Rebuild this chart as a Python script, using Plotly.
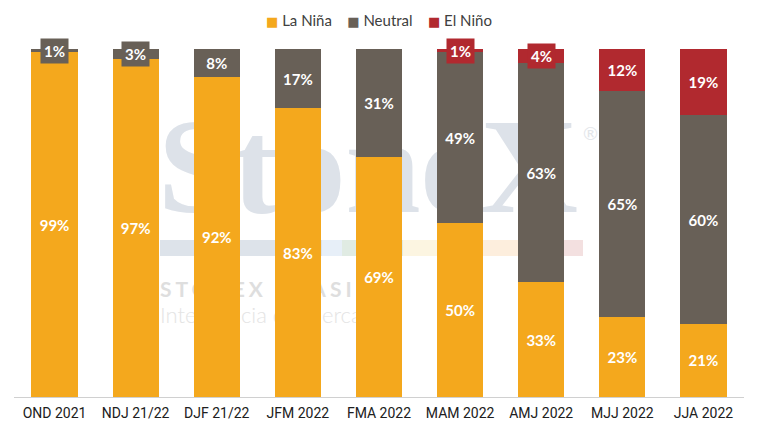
import base64
import plotly.graph_objects as go

# Probabilidades ENSO por trimestre (%)
categories = ["OND 2021", "NDJ 21/22", "DJF 21/22", "JFM 2022", "FMA 2022",
              "MAM 2022", "AMJ 2022", "MJJ 2022", "JJA 2022"]
la_nina = [99, 97, 92, 83, 69, 50, 33, 23, 21]
neutral = [1, 3, 8, 17, 31, 49, 63, 65, 60]
el_nino = [0, 0, 0, 0, 0, 1, 4, 12, 19]

series = [
    ("La Niña", la_nina, "#F4A81D"),
    ("Neutral", neutral, "#686057"),
    ("El Niño", el_nino, "#B1292F"),
]

W, H = 758, 435
ML, MR, MT, MB = 14, 14, 49, 38
PW, PH = W - ML - MR, H - MT - MB

# marca d'água (logo) como svg por trás das barras
stripe = [(160, 322, "#dde3ea"), (322, 342, "#e7eff8"), (342, 403, "#e0ebe3"),
          (403, 483, "#fcf5e1"), (483, 545, "#fdeedd"), (545, 583, "#f3e0e0")]
svg = f'<svg xmlns="http://www.w3.org/2000/svg" width="{W}" height="{H}" viewBox="0 0 {W} {H}">'
svg += ('<text x="158" y="212" font-family="Liberation Serif" font-weight="bold" '
        'font-size="135" fill="#dde2e9">StoneX</text>')
svg += '<text x="583" y="140" font-family="Lato" font-size="18" fill="#e3e6ea">®</text>'
for x0, x1, c in stripe:
    svg += f'<rect x="{x0}" y="240" width="{x1 - x0}" height="16" fill="{c}"/>'
svg += ('<text x="160" y="297" font-family="Lato" font-weight="bold" font-size="21" '
        'letter-spacing="4" fill="#dedede">STONEX BRASIL</text>')
svg += ('<text x="160" y="323" font-family="Lato" font-weight="300" font-size="22" '
        'fill="#e4e4e4">Inteligência de Mercado</text>')
svg += '</svg>'
logo = "data:image/svg+xml;base64," + base64.b64encode(svg.encode("utf-8")).decode()

fig = go.Figure()
for name, vals, color in series:
    fig.add_trace(go.Bar(
        x=categories,
        y=vals,
        name=name,
        marker_color=color,
        marker_line_width=0,
        text=[f"{v}%" if v >= 5 else "" for v in vals],
        textposition="inside",
        insidetextanchor="middle",
        textangle=0,
        textfont=dict(color="white", size=15, family="Lato", weight="bold"),
        hoverinfo="skip",
        showlegend=False,
    ))

# rótulos pequenos com caixa de fundo
annotations = []
base = [0] * len(categories)
for name, vals, color in series:
    for i, v in enumerate(vals):
        if 0 < v < 5:
            annotations.append(dict(
                x=categories[i], y=base[i] + v / 2, text=f"<b>{v}%</b>",
                showarrow=False, bgcolor=color, borderpad=3,
                font=dict(color="white", size=15, family="Lato"),
            ))
    base = [b + v for b, v in zip(base, vals)]

# legenda compacta (quadrado colado ao texto, como no original)
legend_text = "&nbsp;&nbsp;&nbsp;&nbsp;".join(
    f"<span style='color:{c};font-family:DejaVu Sans;font-size:13px'>■</span> {n}"
    for n, _, c in series)
annotations.append(dict(
    xref="paper", yref="paper", x=0.5, y=1 + 29 / PH, xanchor="center", yanchor="middle",
    text=legend_text, showarrow=False,
    font=dict(family="Lato", size=15, color="#404040"),
))

fig.update_layout(
    width=W, height=H,
    margin=dict(l=ML, r=MR, t=MT, b=MB, autoexpand=False),
    barmode="stack",
    bargap=0.43,
    plot_bgcolor="white",
    paper_bgcolor="white",
    showlegend=False,
    xaxis=dict(showgrid=False, showline=True, linecolor="#d0d0d0", linewidth=1,
               ticks="", automargin=False, ticklabelstandoff=3,
               tickfont=dict(family="Roboto", size=14, color="#202020")),
    yaxis=dict(range=[0, 100], visible=False),
    annotations=annotations,
    images=[dict(source=logo, xref="paper", yref="paper",
                 x=-ML / PW, y=1 + MT / PH, sizex=W / PW, sizey=H / PH,
                 xanchor="left", yanchor="top", sizing="stretch", layer="below")],
)

fig.write_html("out.html", config={"displayModeBar": False},
               post_script="document.body.style.margin='0';")
